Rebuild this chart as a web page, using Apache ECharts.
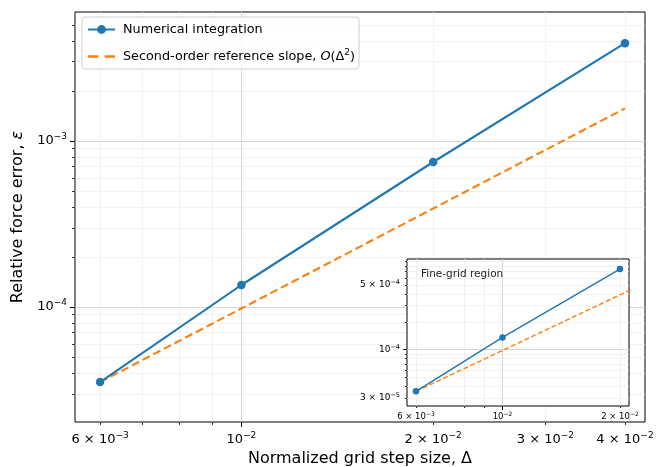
<!DOCTYPE html>
<html>
<head>
<meta charset="utf-8">
<script src="https://cdn.jsdelivr.net/npm/echarts@6/dist/echarts.min.js"></script>
<style>
    html, body { margin: 0; padding: 0; background: #fff; }
    #chart { width: 657px; height: 467px; }
</style>
</head>
<body>
<div id="chart"></div>
<script>
(function () {

    "use strict";

    // data
    const stepSizes = [0.006, 0.01, 0.02, 0.04];
    const numericalError = [3.53e-5, 1.357e-4, 7.47e-4, 3.88e-3];
    const referenceError = [3.53e-5, 9.8e-5, 3.92e-4, 1.57e-3];

    // main axes ticks
    const xMajorTicks = [0.01];
    const xMinorTicks = [0.006, 0.007, 0.008, 0.009, 0.02, 0.03, 0.04];
    const xTickLabels = [0.006, 0.01, 0.02, 0.03, 0.04];
    const yMajorTicks = [1e-4, 1e-3];
    const yMinorTicks = [3e-5, 4e-5, 5e-5, 6e-5, 7e-5, 8e-5, 9e-5,
        2e-4, 3e-4, 4e-4, 5e-4, 6e-4, 7e-4, 8e-4, 9e-4,
        2e-3, 3e-3, 4e-3, 5e-3];
    const yTickLabels = [1e-4, 1e-3];

    // inset ("fine-grid region") uses the first three step sizes
    const insetCount = 3;
    const insetXMajorTicks = [0.01];
    const insetXMinorTicks = [0.006, 0.008, 0.009, 0.02];
    const insetXTickLabels = [0.006, 0.01, 0.02];
    const insetYMajorTicks = [1e-4];
    const insetYMinorTicks = [3e-5, 4e-5, 5e-5, 6e-5, 7e-5, 8e-5, 9e-5,
        2e-4, 3e-4, 4e-4, 5e-4, 6e-4, 7e-4, 8e-4, 9e-4];
    const insetYTickLabels = [3e-5, 1e-4, 5e-4];

    const FONT = "DejaVu Sans";
    const BLUE = "#1f77b4";
    const ORANGE = "#ff7f0e";
    const NUM_NAME = "Numerical integration";
    const REF_NAME = "Second-order reference slope";
    const DASH_ICON = "path://M0,0h10v2.2h-10z M16,0h10v2.2h-10z";

    function sciLabel(v) {
        const e = Math.floor(Math.log10(v) + 1e-9);
        const m = Math.round(v / Math.pow(10, e));
        const exp = "{e|" + (e < 0 ? "\u2212" + (-e) : e) + "}";
        return (m === 1 ? "{b|10}" : "{b|" + m + " \u00d7 10}") + exp;
    }

    function pairs(xs, ys, n) {
        const out = [];
        for (let i = 0; i < n; i++) {
            out.push([xs[i], ys[i]]);
        }
        return out;
    }

    function richFor(size, supSize, lift) {
        return {
            b: { fontSize: size, fontFamily: FONT, color: "#000" },
            e: { fontSize: supSize, fontFamily: FONT, color: "#000", padding: [0, 0, lift, 0] }
        };
    }

    // one axis carries major ticks + labels, a twin carries the minor ticks
    function makeAxes(dim, gridIndex, min, max, major, minor, labels, opts) {
        const majorAxis = {
            type: "log",
            gridIndex: gridIndex,
            min: min,
            max: max,
            z: opts.z,
            axisLine: { show: false },
            axisTick: {
                customValues: major,
                length: opts.majorLen,
                lineStyle: { color: "#000", width: 1 }
            },
            axisLabel: {
                customValues: labels,
                formatter: sciLabel,
                margin: opts.margin,
                rich: richFor(opts.fontSize, opts.supSize, opts.lift)
            },
            splitLine: { show: true, lineStyle: { color: "#d6d6d6", width: 1 } }
        };
        if (opts.name) {
            majorAxis.name = opts.name;
            majorAxis.nameLocation = "middle";
            majorAxis.nameGap = opts.nameGap;
            majorAxis.nameTextStyle = {
                fontSize: 16, fontFamily: FONT, color: "#000",
                rich: { i: { fontSize: 16, fontFamily: FONT, fontStyle: "italic", color: "#000" } }
            };
        }
        const minorAxis = {
            type: "log",
            gridIndex: gridIndex,
            min: min,
            max: max,
            z: opts.z,
            axisLine: { show: false },
            axisTick: {
                customValues: minor,
                length: opts.minorLen,
                lineStyle: { color: "#000", width: 0.8 }
            },
            axisLabel: { show: false },
            splitLine: { show: true, lineStyle: { color: "#eeeeee", width: 0.8 } }
        };
        if (dim === "y") {
            majorAxis.position = minorAxis.position = "left";
        } else {
            majorAxis.position = minorAxis.position = "bottom";
        }
        return [majorAxis, minorAxis];
    }

    const mainX = makeAxes("x", 0, 0.00548, 0.043, xMajorTicks, xMinorTicks, xTickLabels, {
        z: 0, majorLen: 5, minorLen: 3, margin: 9, fontSize: 13, supSize: 9, lift: 8,
        name: "Normalized grid step size, \u0394", nameGap: 29
    });
    const mainY = makeAxes("y", 0, 2.03e-5, 5.98e-3, yMajorTicks, yMinorTicks, yTickLabels, {
        z: 0, majorLen: 5, minorLen: 3, margin: 8, fontSize: 13, supSize: 9, lift: 8,
        name: "Relative force error, {i|\u03b5}", nameGap: 48
    });
    const insetX = makeAxes("x", 1, 0.00569, 0.0211, insetXMajorTicks, insetXMinorTicks, insetXTickLabels, {
        z: 5, majorLen: 4, minorLen: 2, margin: 5, fontSize: 8.5, supSize: 6, lift: 5
    });
    const insetY = makeAxes("y", 1, 2.45e-5, 9.6e-4, insetYMajorTicks, insetYMinorTicks, insetYTickLabels, {
        z: 5, majorLen: 4, minorLen: 2, margin: 7, fontSize: 9, supSize: 6.5, lift: 5
    });

    const chart = echarts.init(document.getElementById("chart"), null, { renderer: "canvas" });

    const option = {
        animation: false,
        backgroundColor: "#fff",
        textStyle: { fontFamily: FONT },
        grid: [
            {
                left: 75, top: 12, right: 12, bottom: 45,
                outerBoundsMode: "none",
                containLabel: false,
                show: true, borderColor: "#000", borderWidth: 1, backgroundColor: "#fff",
                z: 0
            },
            {
                left: 407, top: 259, right: 28, bottom: 61,
                outerBoundsMode: "none",
                containLabel: false,
                show: true, borderColor: "#000", borderWidth: 1, backgroundColor: "#fff",
                z: 5
            }
        ],
        xAxis: mainX.concat(insetX),
        yAxis: mainY.concat(insetY),
        legend: {
            data: [NUM_NAME, { name: REF_NAME, icon: DASH_ICON }],
            orient: "vertical",
            left: 82,
            top: 17,
            itemWidth: 27,
            itemHeight: 11,
            itemGap: 12,
            padding: [6, 4, 6, 5],
            backgroundColor: "rgba(255,255,255,0.85)",
            borderColor: "#d0d0d0",
            borderWidth: 1,
            borderRadius: 3,
            formatter: function (name) {
                if (name === REF_NAME) {
                    return REF_NAME + ", {i|O}(\u0394{s|2})";
                }
                return name;
            },
            textStyle: {
                fontSize: 12.8,
                fontFamily: FONT,
                color: "#000",
                padding: [0, 0, 0, 3],
                rich: {
                    i: { fontSize: 12.8, fontFamily: FONT, fontStyle: "italic", color: "#000" },
                    s: { fontSize: 9, fontFamily: FONT, color: "#000", padding: [0, 0, 8, 0] }
                }
            }
        },
        graphic: [
            {
                type: "text",
                left: 421,
                top: 269,
                z: 100,
                style: { text: "Fine-grid region", fontSize: 10.5, fontFamily: FONT, fill: "#222" }
            }
        ],
        series: [
            {
                name: NUM_NAME,
                type: "line",
                xAxisIndex: 0,
                yAxisIndex: 0,
                data: pairs(stepSizes, numericalError, stepSizes.length),
                color: BLUE,
                symbol: "circle",
                symbolSize: 8.5,
                lineStyle: { width: 2.1, color: BLUE },
                itemStyle: { color: BLUE },
                z: 3
            },
            {
                name: REF_NAME,
                type: "line",
                xAxisIndex: 0,
                yAxisIndex: 0,
                data: pairs(stepSizes, referenceError, stepSizes.length),
                color: ORANGE,
                symbol: "none",
                lineStyle: { width: 2.1, color: ORANGE, type: [8, 4] },
                z: 2
            },
            {
                name: "inset-numerical",
                type: "line",
                xAxisIndex: 2,
                yAxisIndex: 2,
                data: pairs(stepSizes, numericalError, insetCount),
                color: BLUE,
                symbol: "circle",
                symbolSize: 6.5,
                lineStyle: { width: 1.4, color: BLUE },
                itemStyle: { color: BLUE },
                z: 8
            },
            {
                name: "inset-reference",
                type: "line",
                xAxisIndex: 2,
                yAxisIndex: 2,
                data: pairs(stepSizes, referenceError, stepSizes.length),
                color: ORANGE,
                symbol: "none",
                clip: true,
                lineStyle: { width: 1.4, color: ORANGE, type: [5, 2.5] },
                z: 7
            }
        ]
    };

    chart.setOption(option);

})();
</script>
</body>
</html>
